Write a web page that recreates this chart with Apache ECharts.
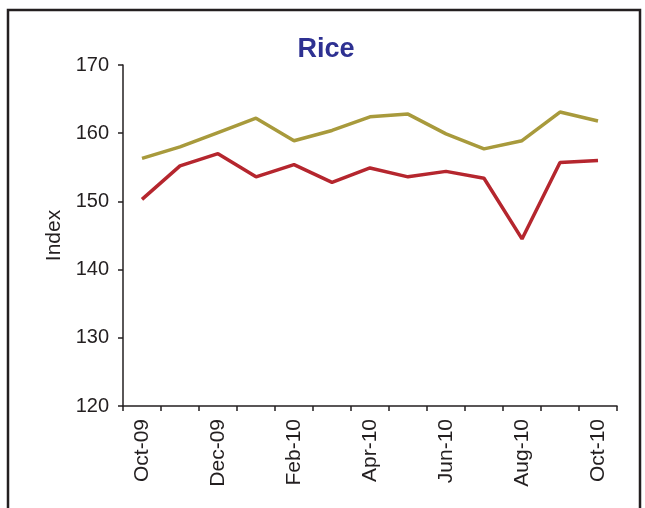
<!DOCTYPE html>
<html><head><meta charset="utf-8">
<script src="https://cdn.jsdelivr.net/npm/echarts@6/dist/echarts.min.js"></script>
<style>html,body{margin:0;padding:0;background:#fff}#c{width:645px;height:508px}</style>
</head><body><div id="c"></div>
<script>
const categories = ['Oct-09','Nov-09','Dec-09','Jan-10','Feb-10','Mar-10','Apr-10','May-10','Jun-10','Jul-10','Aug-10','Sep-10','Oct-10'];
const seriesOlive = [156.3,158.0,160.1,162.2,158.9,160.4,162.4,162.8,159.9,157.7,158.9,163.1,161.8];
const seriesRed = [150.3,155.2,157.0,153.6,155.4,152.8,154.9,153.6,154.4,153.4,144.5,155.7,156.0];
const yTicks = [120,130,140,150,160,170];

const chart = echarts.init(document.getElementById('c'), null, {renderer:'canvas'});
const axisColor = '#231F20';
const font = 'Liberation Sans, Arial, sans-serif';
chart.setOption({
  animation:false,
  backgroundColor:'#fff',
  title:{text:'Rice', left:321, top:31, textAlign:'center',
    textStyle:{fontFamily:font, fontWeight:'bold', fontSize:27, color:'#2E3192'}},
  grid:{left:123, right:28, top:65, bottom:102},
  xAxis:{type:'category', data:categories, boundaryGap:true,
    axisLine:{lineStyle:{color:axisColor, width:1.5}},
    axisTick:{show:true, interval:0, length:5, lineStyle:{color:axisColor, width:1.5}},
    axisLabel:{interval:1, rotate:90, margin:13, fontFamily:font, fontSize:21, color:'#231F20'}},
  yAxis:{type:'value', min:yTicks[0], max:yTicks[yTicks.length-1], interval:10,
    name:'Index', nameLocation:'middle', nameGap:58, nameRotate:90,
    nameTextStyle:{fontFamily:font, fontSize:21, color:'#231F20'},
    splitLine:{show:false},
    axisLine:{show:true, lineStyle:{color:axisColor, width:1.5}},
    axisTick:{show:true, length:5, lineStyle:{color:axisColor, width:1.5}},
    axisLabel:{margin:14, fontFamily:font, fontSize:20, color:'#231F20'}},
  series:[
    {type:'line', data:seriesOlive, symbol:'none', lineStyle:{color:'#A89A3C', width:3.5}},
    {type:'line', data:seriesRed, symbol:'none', lineStyle:{color:'#B5262E', width:3.5}}
  ],
  graphic:[{type:'rect', shape:{x:8, y:10, width:632, height:520}, style:{fill:'none', stroke:'#231F20', lineWidth:2.5}, silent:true}]
});
</script></body></html>
